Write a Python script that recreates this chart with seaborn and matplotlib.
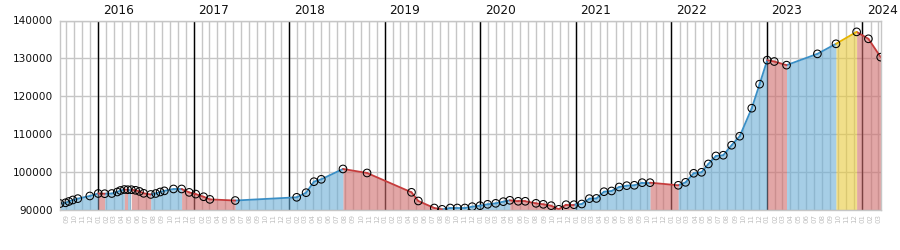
import matplotlib
matplotlib.use('Agg')
import matplotlib.pyplot as plt
import matplotlib.dates as mdates
import matplotlib.transforms as mtransforms
import pandas as pd
import seaborn as sns

# ---- data ----
dates = ['2015-08-08', '2015-08-29', '2015-09-11', '2015-09-26', '2015-10-15', '2015-11-30',
         '2016-01-01', '2016-01-26', '2016-02-22', '2016-03-14', '2016-03-26', '2016-04-10',
         '2016-04-23', '2016-05-07', '2016-05-23', '2016-06-07', '2016-06-23', '2016-07-20',
         '2016-08-08', '2016-08-25', '2016-09-10', '2016-10-15', '2016-11-15', '2016-12-14',
         '2017-01-08', '2017-02-07', '2017-03-03', '2017-06-08', '2018-01-29', '2018-03-06',
         '2018-04-05', '2018-05-03', '2018-07-25', '2018-10-25', '2019-04-13', '2019-05-09',
         '2019-07-09', '2019-08-08', '2019-09-08', '2019-10-05', '2019-11-03', '2019-12-01',
         '2019-12-31', '2020-01-29', '2020-02-29', '2020-03-29', '2020-04-23', '2020-05-25',
         '2020-06-21', '2020-08-01', '2020-08-29', '2020-09-28', '2020-10-27', '2020-11-24',
         '2020-12-24', '2021-01-23', '2021-02-21', '2021-03-20', '2021-04-18', '2021-05-17',
         '2021-06-15', '2021-07-14', '2021-08-12', '2021-09-11', '2021-10-11', '2022-01-27',
         '2022-02-24', '2022-03-27', '2022-04-26', '2022-05-22', '2022-06-20', '2022-07-18',
         '2022-08-19', '2022-09-19', '2022-11-04', '2022-12-04', '2023-01-02', '2023-01-29',
         '2023-03-17', '2023-07-13', '2023-09-22', '2023-12-10', '2024-01-24', '2024-03-11']

values = [91700, 91900, 92250, 92650, 93000, 93700,
          94350, 94300, 94350, 94750, 95150, 95400,
          95350, 95350, 95200, 94900, 94400, 94100,
          94350, 94750, 95050, 95550, 95550, 94650,
          94200, 93500, 92800, 92500, 93350, 94570,
          97470, 98100, 100830, 99770, 94670, 92380,
          90530, 90180, 90530, 90530, 90530, 90880,
          91140, 91500, 91760, 92200, 92560, 92300,
          92300, 91760, 91500, 91140, 90180, 91400,
          91400, 91580, 93000, 93050, 94830, 95020,
          96070, 96420, 96520, 97210, 97210, 96520,
          97300, 99690, 99950, 102150, 104260, 104450,
          107090, 109470, 116860, 123200, 129540, 129180,
          128220, 131200, 133850, 137000, 135170, 130330]

# trend of the segment that starts at each point (u = up, d = down, f = flat)
trend = ['u', 'u', 'u', 'u', 'u', 'u',
         'd',
         'u', 'u', 'u', 'u',
         'd',
         'u',
         'd', 'd', 'd', 'd',
         'u', 'u', 'u', 'u', 'u',
         'd', 'd', 'd', 'd', 'd',
         'u', 'u', 'u', 'u', 'u',
         'd', 'd', 'd', 'd', 'd',
         'u', 'u', 'u', 'u', 'u', 'u', 'u', 'u', 'u',
         'd', 'd', 'd', 'd', 'd', 'd', 'd', 'd',
         'u', 'u', 'u', 'u', 'u', 'u', 'u', 'u', 'u', 'u',
         'd',
         'u', 'u', 'u', 'u', 'u', 'u', 'u', 'u', 'u', 'u', 'u',
         'd', 'd',
         'u', 'u',
         'f',
         'd', 'd']

years = [2016, 2017, 2018, 2019, 2020, 2021, 2022, 2023, 2024]
y_ticks = [90000, 100000, 110000, 120000, 130000, 140000]

line_pal = {'u': '#3a8fc6', 'd': '#c63c3c', 'f': '#e6b400'}
fill_pal = {'u': '#6baed6', 'd': '#cf6b6b', 'f': '#e9cb3c'}

assert len(dates) == len(values) == len(trend) + 1

ts = pd.to_datetime(dates)

sns.set_theme(style='white')
plt.rcParams['font.family'] = ['DejaVu Sans']

fig = plt.figure(figsize=(9, 2.5), dpi=100)
ax = fig.add_axes([60 / 900, 40 / 250, 820.7 / 900, 189.5 / 250])

# segments as long table
rows = []
for i, t in enumerate(trend):
    rows.append({'seg': i, 'trend': t, 'date': ts[i], 'value': values[i]})
    rows.append({'seg': i, 'trend': t, 'date': ts[i + 1], 'value': values[i + 1]})
seg_df = pd.DataFrame(rows)

# fills: merge runs of the same trend
base = y_ticks[0]
start = 0
for i in range(1, len(trend) + 1):
    if i == len(trend) or trend[i] != trend[start]:
        ax.fill_between(ts[start:i + 1], values[start:i + 1], base,
                        color=fill_pal[trend[start]], alpha=0.6, lw=0, zorder=1)
        start = i

sns.lineplot(data=seg_df, x='date', y='value', hue='trend', units='seg',
             estimator=None, palette=line_pal, legend=False, lw=1.3,
             sort=False, ax=ax, zorder=2)

sns.scatterplot(x=ts, y=values, color='none', edgecolor='black',
                linewidth=0.75, s=30, ax=ax, zorder=3)

# year lines and labels
trans = mtransforms.blended_transform_factory(ax.transData, ax.transAxes)
for y in years:
    d = pd.Timestamp(f'{y}-01-01')
    ax.axvline(d, color='black', lw=1, zorder=0.9)
    ax.text(d + pd.Timedelta(days=17), 1.02, str(y), transform=trans,
            ha='left', va='bottom', fontsize=8.7, color='#111111')

ax.set_xlim(ts[0], ts[-1])
ax.set_ylim(y_ticks[0], y_ticks[-1])
ax.set_yticks(y_ticks)
ax.set_yticklabels([str(v) for v in y_ticks])
ax.xaxis.set_major_locator(mdates.MonthLocator())
ax.xaxis.set_major_formatter(mdates.DateFormatter('%m'))

ax.grid(True, color='#c6c6c6', lw=1)
ax.set_axisbelow(True)
for s in ax.spines.values():
    s.set_color('#c6c6c6')
    s.set_linewidth(1)

ax.tick_params(axis='y', length=0, pad=5, labelsize=7.6, labelcolor='#111111')
ax.tick_params(axis='x', length=0, pad=3, labelsize=5.0, labelcolor='#c0c0c0',
               labelrotation=90)
ax.set_xlabel('')
ax.set_ylabel('')

fig.savefig('out.png', dpi=100)
